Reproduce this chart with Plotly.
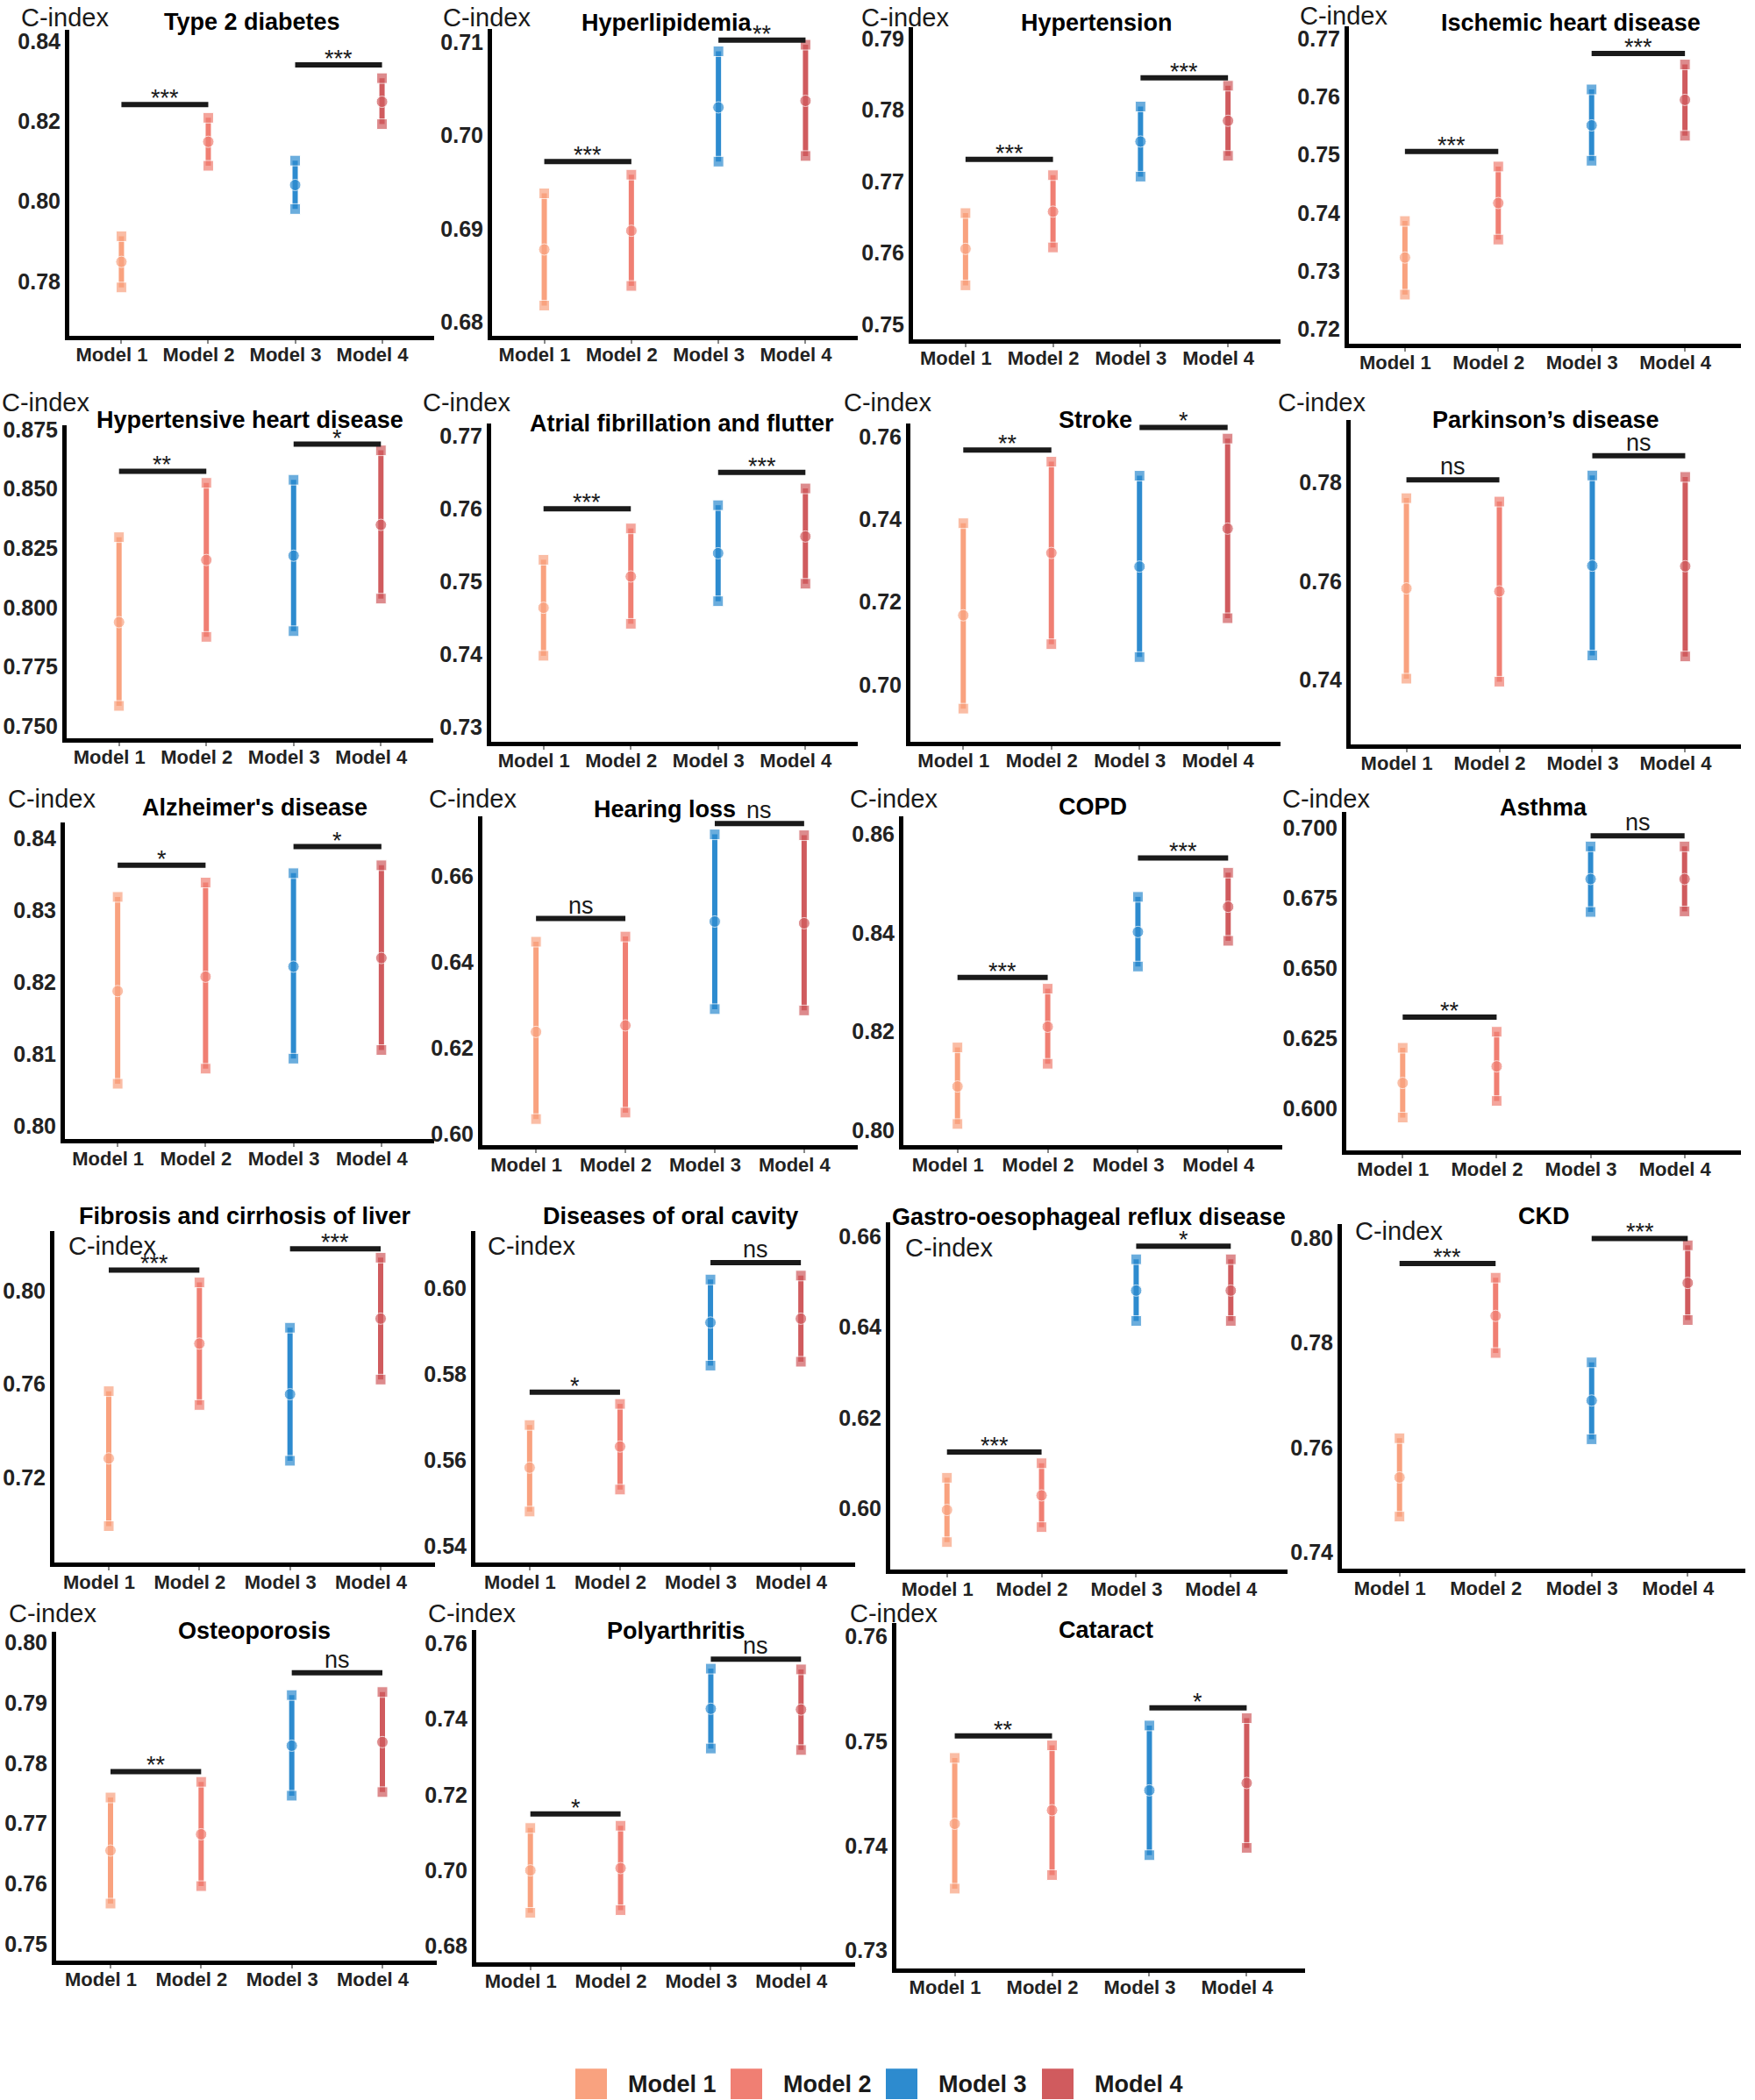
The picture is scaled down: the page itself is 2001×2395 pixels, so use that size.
import plotly.graph_objects as go

W, H = 2001, 2395

models = ["Model 1", "Model 2", "Model 3", "Model 4"]
colors = ["#F9A27F", "#F07F73", "#2D8BCF", "#D05B5E"]

diseases = ["Type 2 diabetes", "Hyperlipidemia", "Hypertension", "Ischemic heart disease",
            "Hypertensive heart disease", "Atrial fibrillation and flutter", "Stroke", "Parkinson’s disease",
            "Alzheimer's disease", "Hearing loss", "COPD", "Asthma",
            "Fibrosis and cirrhosis of liver", "Diseases of oral cavity", "Gastro-oesophageal reflux disease", "CKD",
            "Osteoporosis", "Polyarthritis", "Cataract"]

# C-index estimates and 95% CI for each model
m1_est = [0.7849, 0.6878, 0.7606, 0.7323, 0.7939, 0.7464, 0.7168, 0.7586, 0.8188, 0.6237,
          0.8089, 0.6092, 0.7281, 0.5583, 0.5997, 0.7543, 0.7655, 0.7000, 0.7421]
m1_lo = [0.7785, 0.6818, 0.7555, 0.7259, 0.7586, 0.7398, 0.6942, 0.7403, 0.8059, 0.6034,
         0.8013, 0.5969, 0.6991, 0.5481, 0.5926, 0.7468, 0.7567, 0.6888, 0.7359]
m1_hi = [0.7913, 0.6938, 0.7656, 0.7386, 0.8297, 0.7530, 0.7391, 0.7769, 0.8319, 0.6447,
         0.8168, 0.6217, 0.7569, 0.5682, 0.6068, 0.7618, 0.7743, 0.7112, 0.7484]

m2_est = [0.8149, 0.6898, 0.7658, 0.7417, 0.8201, 0.7507, 0.7319, 0.7580, 0.8208, 0.6252,
          0.8210, 0.6151, 0.7773, 0.5632, 0.6029, 0.7852, 0.7682, 0.7006, 0.7434]
m2_lo = [0.8089, 0.6839, 0.7608, 0.7354, 0.7877, 0.7442, 0.7098, 0.7397, 0.8080, 0.6049,
         0.8135, 0.6028, 0.7510, 0.5532, 0.5959, 0.7781, 0.7596, 0.6895, 0.7372]
m2_hi = [0.8209, 0.6958, 0.7709, 0.7480, 0.8526, 0.7573, 0.7540, 0.7762, 0.8339, 0.6459,
         0.8287, 0.6274, 0.8035, 0.5731, 0.6100, 0.7925, 0.7769, 0.7118, 0.7496]

m3_est = [0.8041, 0.7030, 0.7756, 0.7551, 0.8219, 0.7539, 0.7286, 0.7632, 0.8222, 0.6494,
          0.8402, 0.6817, 0.7556, 0.5920, 0.6481, 0.7690, 0.7829, 0.7427, 0.7453]
m3_lo = [0.7981, 0.6972, 0.7707, 0.7490, 0.7901, 0.7473, 0.7067, 0.7450, 0.8094, 0.6290,
         0.8332, 0.6700, 0.7271, 0.5820, 0.6414, 0.7616, 0.7746, 0.7322, 0.7391]
m3_hi = [0.8102, 0.7090, 0.7805, 0.7613, 0.8539, 0.7605, 0.7506, 0.7815, 0.8352, 0.6697,
         0.8473, 0.6933, 0.7841, 0.6020, 0.6550, 0.7763, 0.7913, 0.7533, 0.7515]

m4_est = [0.8249, 0.7037, 0.7785, 0.7595, 0.8349, 0.7562, 0.7378, 0.7631, 0.8234, 0.6490,
          0.8453, 0.6817, 0.7880, 0.5929, 0.6481, 0.7915, 0.7835, 0.7425, 0.7460]
m4_lo = [0.8193, 0.6978, 0.7736, 0.7533, 0.8038, 0.7497, 0.7161, 0.7448, 0.8106, 0.6287,
         0.8384, 0.6702, 0.7619, 0.5829, 0.6414, 0.7844, 0.7752, 0.7318, 0.7398]
m4_hi = [0.8308, 0.7097, 0.7834, 0.7656, 0.8663, 0.7628, 0.7596, 0.7812, 0.8363, 0.6695,
         0.8522, 0.6933, 0.8141, 0.6029, 0.6550, 0.7987, 0.7918, 0.7531, 0.7522]

# significance brackets (Model 1 vs 2, Model 3 vs 4)
bar12_y = [0.8242, 0.6972, 0.7731, 0.7506, 0.8575, 0.7600, 0.7568, 0.7806, 0.8363, 0.6501,
           0.8310, 0.6326, 0.8088, 0.5758, 0.6125, 0.7952, 0.7786, 0.7149, 0.7505]
bar34_y = [0.8341, 0.7102, 0.7845, 0.7675, 0.8689, 0.7650, 0.7623, 0.7855, 0.8389, 0.6722,
           0.8552, 0.6971, 0.8179, 0.6059, 0.6579, 0.8000, 0.7950, 0.7558, 0.7532]
sig12 = ["***", "***", "***", "***", "**", "***", "**", "ns", "*", "ns",
         "***", "**", "***", "*", "***", "***", "**", "*", "**"]
sig34 = ["***", "**", "***", "***", "*", "***", "*", "ns", "*", "ns",
         "***", "ns", "***", "ns", "*", "***", "ns", "ns", "*"]

# y axis limits and ticks
y_min = [0.7665, 0.6786, 0.748, 0.7175, 0.745, 0.728, 0.6862, 0.727, 0.7982, 0.5973,
         0.797, 0.5852, 0.6834, 0.5362, 0.5865, 0.7368, 0.7473, 0.6758, 0.7283]
y_max = [0.8429, 0.7114, 0.7916, 0.7722, 0.8768, 0.7717, 0.7632, 0.7927, 0.8422, 0.674,
         0.8637, 0.7057, 0.8256, 0.6133, 0.6632, 0.8028, 0.8018, 0.7635, 0.7613]
y_step = [0.02, 0.01, 0.01, 0.01, 0.025, 0.01, 0.02, 0.02, 0.01, 0.02,
          0.02, 0.025, 0.04, 0.02, 0.02, 0.02, 0.01, 0.02, 0.01]
y_fmt = [".2f", ".2f", ".2f", ".2f", ".3f", ".2f", ".2f", ".2f", ".2f", ".2f",
         ".2f", ".3f", ".2f", ".2f", ".2f", ".2f", ".2f", ".2f", ".2f"]

# panel boxes in pixels: left, right, top, bottom
box_l = [79, 561, 1041, 1538, 76, 560, 1038, 1540, 74, 550, 1030, 1535, 62, 542, 1015, 1530, 64, 543, 1022]
box_r = [495, 978, 1460, 1985, 494, 978, 1460, 1985, 495, 978, 1462, 1985, 496, 975, 1468, 1990, 498, 975, 1488]
box_t = [25, 24, 22, 21, 478, 476, 476, 472, 933, 925, 925, 920, 1400, 1400, 1390, 1392, 1859, 1857, 1849]
box_b = [375, 375, 379, 384, 836, 840, 840, 843, 1295, 1302, 1302, 1308, 1780, 1780, 1788, 1787, 2235, 2237, 2244]
title_y = [16, 17, 17, 17, 472, 476, 472, 472, 915, 917, 914, 915, 1383, 1383, 1384, 1383, 1858, 1858, 1857]
title_dx = [0, -9, 0, 29, 0, 8, 0, 0, 6, -6, 0, 0, 0, 6, 0, 0, 9, 12, 6]
cidx_x = [22, 503, 980, 1480, 0, 480, 960, 1455, 7, 487, 967, 1460, 76, 554, 1030, 1543, 8, 486, 967]
cidx_y = [11, 11, 11, 9, 452, 452, 452, 452, 905, 905, 905, 905, 1417, 1417, 1419, 1400, 1838, 1838, 1838]

FONT = "Liberation Sans, Arial, sans-serif"
est = [m1_est, m2_est, m3_est, m4_est]
lo = [m1_lo, m2_lo, m3_lo, m4_lo]
hi = [m1_hi, m2_hi, m3_hi, m4_hi]


def px(v):
    return v / W


def py(v):
    return 1 - v / H


fig = go.Figure()
annotations = []
layout_axes = {}

for i, name in enumerate(diseases):
    n = "" if i == 0 else str(i + 1)
    xa, ya = "x" + n, "y" + n
    for j in range(4):
        fig.add_trace(go.Scatter(
            x=[models[j]] * 3, y=[lo[j][i], est[j][i], hi[j][i]],
            mode="lines+markers", xaxis=xa, yaxis=ya, showlegend=False,
            line=dict(color=colors[j], width=6),
            marker=dict(color=colors[j], symbol=["square", "circle", "square"], size=[12, 13, 12])))
    for pair, by, lab in [((0, 1), bar12_y[i], sig12[i]), ((2, 3), bar34_y[i], sig34[i])]:
        fig.add_trace(go.Scatter(
            x=[models[pair[0]], models[pair[1]]], y=[by, by], mode="lines",
            xaxis=xa, yaxis=ya, showlegend=False, line=dict(color="#1a1a1a", width=6)))
        annotations.append(dict(
            x=(pair[0] + pair[1]) / 2, y=by, xref=xa, yref=ya, text=lab, showarrow=False,
            yanchor="bottom", yshift=-10 if lab.startswith("*") else -2,
            font=dict(family=FONT, size=27, color="#1a1a1a")))

    layout_axes["xaxis" + n] = dict(
        domain=[px(box_l[i]), px(box_r[i])], anchor=ya, type="category",
        categoryorder="array", categoryarray=models, range=[-0.6, 3.6],
        showline=True, linecolor="black", linewidth=5, showgrid=False, zeroline=False,
        ticks="outside", ticklen=4, tickwidth=2, tickcolor="#888",
        ticklabelshift=-11, ticklabelstandoff=-6,
        tickfont=dict(family=FONT, size=22, color="#222", weight="bold"))
    layout_axes["yaxis" + n] = dict(
        domain=[py(box_b[i]), py(box_t[i])], anchor=xa, range=[y_min[i], y_max[i]],
        tick0=0, dtick=y_step[i], tickformat=y_fmt[i],
        showline=True, linecolor="black", linewidth=5, showgrid=False, zeroline=False,
        ticks="", tickfont=dict(family=FONT, size=25, color="#222", weight="bold"))

    annotations.append(dict(
        x=px((box_l[i] + box_r[i]) / 2 + title_dx[i]), y=py(title_y[i]), xref="paper", yref="paper",
        text=name, showarrow=False, xanchor="center", yanchor="middle",
        font=dict(family=FONT, size=27, color="black", weight="bold")))
    annotations.append(dict(
        x=px(cidx_x[i]), y=py(cidx_y[i]), xref="paper", yref="paper",
        text="C-index", showarrow=False, xanchor="left", yanchor="middle",
        font=dict(family=FONT, size=29, color="#1a1a1a")))

# legend drawn at bottom
legend_cx = [674, 851, 1028, 1206]
shapes = []
for j in range(4):
    cx = legend_cx[j]
    shapes.append(dict(type="rect", xref="paper", yref="paper",
                       x0=px(cx - 18), x1=px(cx + 18), y0=py(2394), y1=py(2359),
                       fillcolor=colors[j], line=dict(width=0)))
    annotations.append(dict(
        x=px(cx + 40), y=py(2377), xref="paper", yref="paper", text=models[j],
        showarrow=False, xanchor="left", yanchor="middle",
        font=dict(family=FONT, size=27, color="#1a1a1a", weight="bold")))

fig.update_layout(
    width=W, height=H, margin=dict(l=0, r=0, t=0, b=0),
    paper_bgcolor="white", plot_bgcolor="white",
    annotations=annotations, shapes=shapes, **layout_axes)

fig.write_html("out.html", config={"displayModeBar": False},
               post_script="document.body.style.margin='0';")
